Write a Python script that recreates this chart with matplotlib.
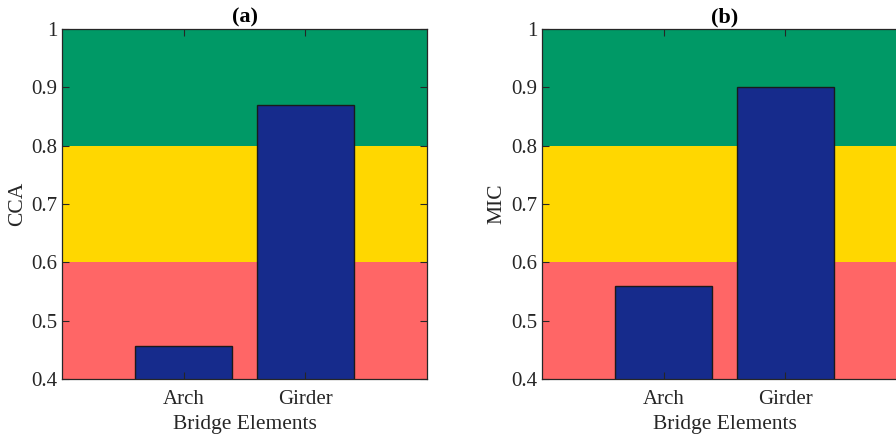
import matplotlib.pyplot as plt

categories = ['Arch', 'Girder']
cca_values = [0.456, 0.869]
mic_values = [0.560, 0.900]
panel_titles = ['(a)', '(b)']
panel_ylabels = ['CCA', 'MIC']
band_edges = [0.4, 0.6, 0.8, 1.0]
band_colors = ['#FF6666', '#FFD700', '#009966']


def draw_panel(ax, values, title, ylabel):
    for lo, hi, col in zip(band_edges[:-1], band_edges[1:], band_colors):
        ax.axhspan(lo, hi, color=col, lw=0, zorder=0)
    pos = list(range(1, len(categories) + 1))
    ax.bar(pos, values, width=0.8, color='#162B8C', edgecolor='#1a1a1a',
           linewidth=1.0, zorder=2)
    ax.set_xlim(0, 3)
    ax.set_ylim(0.4, 1.0)
    ax.set_xticks(pos)
    ax.set_xticklabels(categories)
    ax.set_yticks([0.4, 0.5, 0.6, 0.7, 0.8, 0.9, 1.0])
    ax.set_yticklabels(['0.4', '0.5', '0.6', '0.7', '0.8', '0.9', '1'])
    ax.tick_params(direction='in', top=True, right=True, length=5,
                   width=0.8, color='#262626', labelsize=15,
                   labelcolor='#262626')
    ax.tick_params(axis='x', pad=8)
    for s in ax.spines.values():
        s.set_color('#262626')
        s.set_linewidth(0.9)
        s.set_zorder(3)
    ax.set_axisbelow(False)
    ax.set_title(title, fontsize=16, fontweight='bold', pad=5)
    ax.set_ylabel(ylabel, fontsize=15.5, color='#262626', labelpad=3)
    ax.set_xlabel('Bridge Elements', fontsize=15.5, color='#262626',
                  labelpad=4)


def main():
    plt.rcParams['font.family'] = ['Liberation Serif', 'DejaVu Serif']
    fig = plt.figure(figsize=(8.96, 4.36), dpi=100)
    w, h = 365 / 896, 350 / 436
    bottom = 1 - 379 / 436
    ax1 = fig.add_axes([62 / 896, bottom, w, h])
    ax2 = fig.add_axes([542 / 896, bottom, w, h])
    draw_panel(ax1, cca_values, panel_titles[0], panel_ylabels[0])
    draw_panel(ax2, mic_values, panel_titles[1], panel_ylabels[1])
    fig.savefig('out.png', dpi=100)


if __name__ == '__main__':
    main()
